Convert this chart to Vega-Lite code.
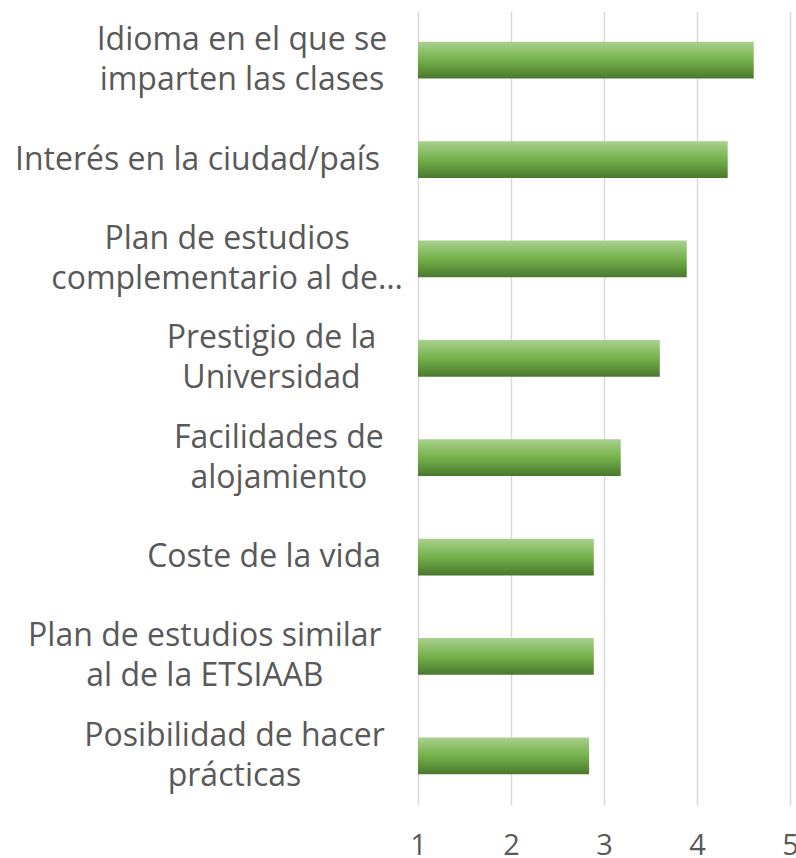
{
  "$schema": "https://vega.github.io/schema/vega-lite/v6.json",
  "width": 372,
  "height": 794,
  "autosize": {"type": "none"},
  "padding": {"left": 418, "top": 11, "right": 6, "bottom": 53},
  "background": "white",
  "data": {
    "values": [
      {"factor": "Idioma en el que se|imparten las clases", "valor": 4.61},
      {"factor": "Interés en la ciudad/país", "valor": 4.33},
      {"factor": "Plan de estudios|complementario al de…", "valor": 3.89},
      {"factor": "Prestigio de la|Universidad", "valor": 3.60},
      {"factor": "Facilidades de|alojamiento", "valor": 3.18},
      {"factor": "Coste de la vida", "valor": 2.89},
      {"factor": "Plan de estudios similar|al de la ETSIAAB", "valor": 2.89},
      {"factor": "Posibilidad de hacer|prácticas", "valor": 2.84}
    ]
  },
  "config": {
    "view": {"stroke": null},
    "font": "Open Sans"
  },
  "mark": {
    "type": "bar",
    "color": {
      "gradient": "linear",
      "x1": 0, "y1": 0, "x2": 0, "y2": 1,
      "stops": [
        {"offset": 0, "color": "#a9d18e"},
        {"offset": 0.5, "color": "#74b14a"},
        {"offset": 1, "color": "#4a782e"}
      ]
    }
  },
  "encoding": {
    "y": {
      "field": "factor",
      "type": "nominal",
      "sort": null,
      "title": null,
      "scale": {"paddingInner": 0.63, "paddingOuter": 0.31},
      "axis": {
        "domain": false,
        "ticks": false,
        "grid": false,
        "labelExpr": "split(datum.label, '|')",
        "labelAlign": "center",
        "labelBaseline": "middle",
        "labelLineHeight": 40,
        "labelFontSize": 32,
        "labelColor": "#595959",
        "labelLimit": 0,
        "labelOffset": {"expr": "-20 * (length(split(datum.value, '|')) - 1)"},
        "labelPadding": {"expr": "36 + 7.4 * max(length(split(datum.value, '|')[0]), length(peek(split(datum.value, '|'))))"}
      }
    },
    "x": {
      "field": "valor",
      "type": "quantitative",
      "title": null,
      "scale": {"domain": [1, 5], "nice": false, "zero": false},
      "axis": {
        "values": [1, 2, 3, 4, 5],
        "domain": false,
        "ticks": false,
        "grid": true,
        "gridColor": "#d9d9d9",
        "gridWidth": 1.5,
        "labelFontSize": 29,
        "labelColor": "#595959",
        "labelPadding": 26,
        "labelFlush": false
      }
    },
    "x2": {"datum": 1}
  }
}
